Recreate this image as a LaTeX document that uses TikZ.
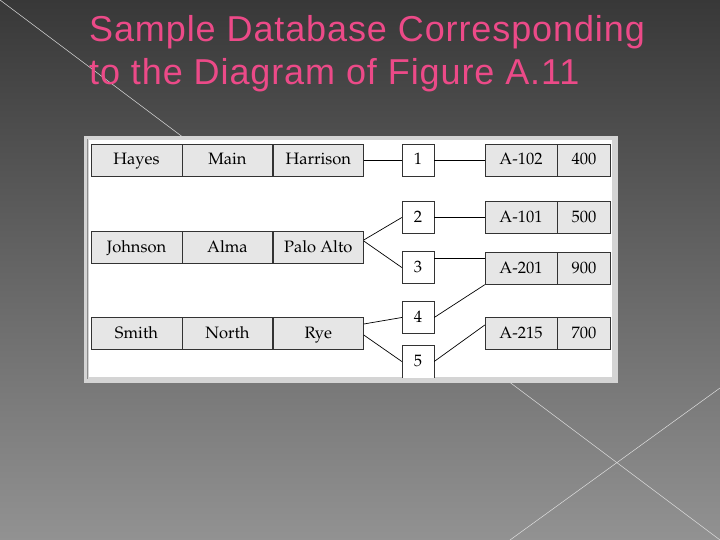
\documentclass[tikz,border=0pt]{standalone}
\usepackage[T1]{fontenc}
\usepackage{fontspec}
\setsansfont{Liberation Sans}
\usetikzlibrary{positioning}
\definecolor{titlepink}{RGB}{236,74,136}
\definecolor{bgdark}{RGB}{56,56,56}
\definecolor{bglight}{RGB}{146,146,146}
\definecolor{panelgray}{RGB}{212,212,212}
\definecolor{cellgray}{RGB}{230,230,230}
\newcommand{\palfont}{\fontencoding{T1}\fontfamily{ppl}\selectfont}
\tikzset{
    title/.style={anchor=north west, inner sep=0pt, align=left, text=titlepink,
        font=\sffamily\fontsize{36}{43.5}\selectfont\addfontfeature{LetterSpace=2.5}}, % slide heading
    bgline/.style={draw=white!75!gray, line width=0.5pt}, % faint lines on the backdrop
    cell/.style={draw=black!80, fill=cellgray, inner sep=0pt, minimum height=32pt,
        text height=14pt, text depth=4pt,
        font=\palfont\fontsize{16.5}{18}\selectfont}, % one field of a record
    wide/.style={cell, minimum width=90.5pt},
    acct/.style={cell, minimum width=72pt},
    bal/.style={cell, minimum width=53pt},
    link/.style={cell, fill=white, minimum width=32pt}, % the link records in the middle
    conn/.style={draw=black, line width=0.7pt},
}
\begin{document}
\begin{tikzpicture}[x=1pt, y=-1pt]
\useasboundingbox (0,0) rectangle (720,540);
\shade[shading angle=-25, top color=bgdark, bottom color=bglight] (0,0) rectangle (720,540);
\draw[bgline] (0,0) -- (720,540);
\draw[bgline] (510,540) -- (720,388);

\node[title] (head) at (89,15) {Sample Database Corresponding\\to the Diagram of Figure A.11};

% the figure on its panel
\fill[panelgray] (84,136) rectangle (618,383);
\fill[white] (89,140) rectangle (612,377);
\draw[black!45] (87,139) -- (87,379);

\begin{scope}
\clip (89,140) rectangle (612,377);

% customers
\node[wide] (hayes) at (136.5,160) {Hayes};
\node[wide, right=0pt of hayes] (main) {Main};
\node[wide, right=0pt of main] (harrison) {Harrison};
\node[wide] (johnson) at (136.5,247) {Johnson};
\node[wide, right=0pt of johnson] (alma) {Alma};
\node[wide, right=0pt of alma] (palo) {Palo Alto};
\node[wide] (smith) at (136.5,333) {Smith};
\node[wide, right=0pt of smith] (north) {North};
\node[wide, right=0pt of north] (rye) {Rye};

% links
\node[link] (1) at (418,160) {1};
\node[link] (2) at (418,217.5) {2};
\node[link] (3) at (418,267.5) {3};
\node[link] (4) at (418,317.5) {4};
\node[link, minimum height=33pt] (5) at (418,361.5) {5};

% accounts
\node[acct] (a102) at (521,160) {A-102};
\node[bal, right=0pt of a102] (b102) {400};
\node[acct] (a101) at (521,217.5) {A-101};
\node[bal, right=0pt of a101] (b101) {500};
\node[acct] (a201) at (521,268.5) {A-201};
\node[bal, right=0pt of a201] (b201) {900};
\node[acct] (a215) at (521,333) {A-215};
\node[bal, right=0pt of a215] (b215) {700};

\draw[conn] (harrison) -- (1) -- (a102);
\draw[conn] ([yshift=7pt]palo.east) -- (2.west);
\draw[conn] ([yshift=6pt]palo.east) -- (3.west);
\draw[conn] (2) -- (a101);
\draw[conn] ([yshift=9pt]3.east) -- ([yshift=10pt]a201.west);
\draw[conn] (4.east) -- (a201.south west);
\draw[conn] ([yshift=9pt]rye.east) -- (4.west);
\draw[conn] ([yshift=-2pt]rye.east) -- (5.west);
\draw[conn] (5.east) -- ([yshift=8pt]a215.west);
\end{scope}
\end{tikzpicture}
\end{document}
